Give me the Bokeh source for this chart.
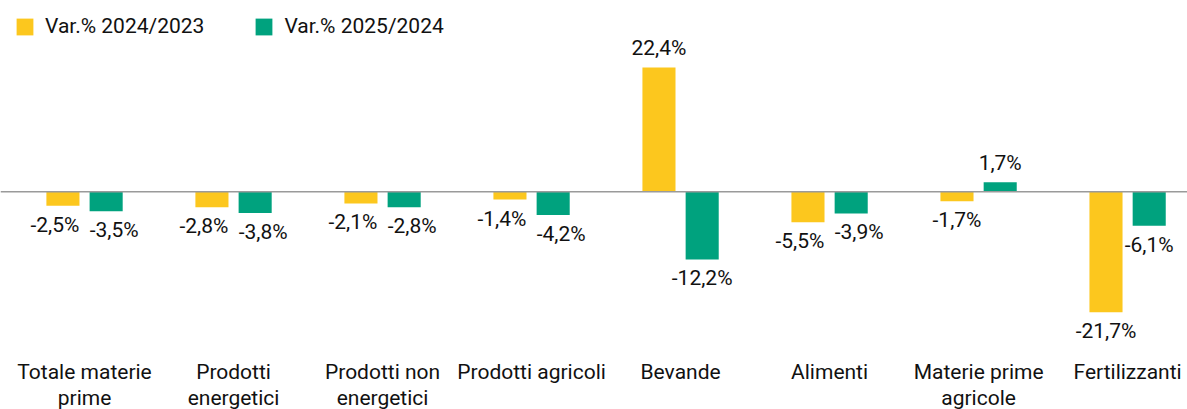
from bokeh.plotting import figure
from bokeh.models import ColumnDataSource, Span, Legend, LegendItem, Range1d
from bokeh.embed import file_html
from bokeh.resources import INLINE
from bokeh.core.properties import value

categories = ["Totale materie\nprime", "Prodotti\nenergetici", "Prodotti non\nenergetici",
              "Prodotti agricoli", "Bevande", "Alimenti", "Materie prime\nagricole", "Fertilizzanti"]
var_2024_2023 = [-2.5, -2.8, -2.1, -1.4, 22.4, -5.5, -1.7, -21.7]
var_2025_2024 = [-3.5, -3.8, -2.8, -4.2, -12.2, -3.9, 1.7, -6.1]
series_names = ["Var.% 2024/2023", "Var.% 2025/2024"]
colors = ["#FCC71E", "#00A27E"]

FONT = "Roboto"
idx = list(range(len(categories)))
off = 0.145
bw = 0.222
PX_PER_UNIT = 5.55

def fmt(v):
    return f"{v:.1f}".replace(".", ",") + "%"

# labels of a pair that would collide are pushed apart horizontally
clash = [(a < 0) == (b < 0) and abs(a - b) * PX_PER_UNIT < 25
         for a, b in zip(var_2024_2023, var_2025_2024)]

p = figure(width=1187, height=409, output_backend="svg", toolbar_location=None,
           x_range=Range1d(-0.564, 7.402), y_range=Range1d(-39.23, 34.47),
           min_border=0, outline_line_color=None)
p.xaxis.visible = False
p.yaxis.visible = False
p.grid.visible = False

p.add_layout(Span(location=0, dimension="width", line_color="#9a9a9a", line_width=1.5))

renderers = []
for k, (vals, col) in enumerate(zip([var_2024_2023, var_2025_2024], colors)):
    sign = -1 if k == 0 else 1
    xs = [i + sign * off for i in idx]
    src = ColumnDataSource(dict(
        x=xs, top=vals,
        lab=[fmt(v) for v in vals],
        yo=[19 if v < 0 else -19 for v in vals],
        xo=[sign * 8 if c else 0 for c in clash],
    ))
    r = p.vbar(x="x", top="top", bottom=0, width=bw, source=src, fill_color=col, line_color=None)
    renderers.append(r)
    p.text(x="x", y="top", text="lab", y_offset="yo", x_offset="xo", source=src,
           text_align="center", text_baseline="middle",
           text_font=value(FONT), text_font_size="21px", text_color="#111111")

csrc = ColumnDataSource(dict(x=idx, y=[-30.3] * len(idx), t=categories))
p.text(x="x", y="y", text="t", source=csrc, text_align="center", text_baseline="top",
       text_font=value(FONT), text_font_size="21px", text_color="#111111",
       text_line_height=1.08)

legend = Legend(items=[LegendItem(label=n, renderers=[r]) for n, r in zip(series_names, renderers)],
                orientation="horizontal", location="top_left", margin=14, padding=0,
                glyph_width=21, glyph_height=21, label_standoff=10, spacing=49,
                label_text_font=FONT, label_text_font_size="21px", label_text_color="#111111",
                border_line_color=None, background_fill_alpha=0)
p.add_layout(legend)

open("out.html", "w").write(file_html(p, INLINE))
